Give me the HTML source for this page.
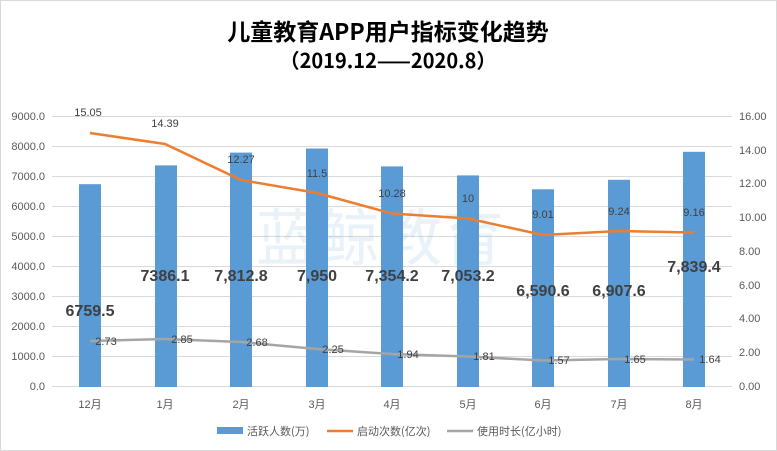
<!DOCTYPE html>
<html><head><meta charset="utf-8"><style>
body{margin:0;background:#fff}
svg{display:block;font-family:"Liberation Sans","Noto Sans CJK SC",sans-serif}
</style></head><body>
<svg width="777" height="451" viewBox="0 0 777 451">
<rect x="0.5" y="0.5" width="776" height="450" fill="#fff" stroke="#d9d9d9"/>
<text x="388" y="40" text-anchor="middle" font-size="23" font-weight="bold" font-family="'Noto Sans CJK SC',sans-serif">儿童教育APP用户指标变化趋势</text>
<text x="388" y="68" text-anchor="middle" font-size="20" font-weight="bold" font-family="'Noto Sans CJK SC',sans-serif">（2019.12——2020.8）</text>
<g stroke="#d9d9d9" stroke-width="1">
<line x1="52" x2="732" y1="116.5" y2="116.5"/><line x1="52" x2="732" y1="146.5" y2="146.5"/>
<line x1="52" x2="732" y1="176.5" y2="176.5"/><line x1="52" x2="732" y1="206.5" y2="206.5"/>
<line x1="52" x2="732" y1="236.5" y2="236.5"/><line x1="52" x2="732" y1="266.5" y2="266.5"/>
<line x1="52" x2="732" y1="296.5" y2="296.5"/><line x1="52" x2="732" y1="326.5" y2="326.5"/>
<line x1="52" x2="732" y1="356.5" y2="356.5"/><line x1="52" x2="732" y1="386.5" y2="386.5"/>
</g>
<g font-size="11" fill="#595959" text-anchor="end">
<text x="45" y="120">9000.0</text><text x="45" y="150">8000.0</text><text x="45" y="180">7000.0</text>
<text x="45" y="210">6000.0</text><text x="45" y="240">5000.0</text><text x="45" y="270">4000.0</text>
<text x="45" y="300">3000.0</text><text x="45" y="330">2000.0</text><text x="45" y="360">1000.0</text>
<text x="45" y="390">0.0</text>
</g>
<g font-size="11" fill="#595959" text-anchor="start">
<text x="739" y="120">16.00</text><text x="739" y="154">14.00</text><text x="739" y="187">12.00</text>
<text x="739" y="221">10.00</text><text x="739" y="255">8.00</text><text x="739" y="289">6.00</text>
<text x="739" y="322">4.00</text><text x="739" y="356">2.00</text><text x="739" y="390">0.00</text>
</g>
<text x="380" y="260" text-anchor="middle" font-size="62" fill="#5b9bd5" opacity="0.12" font-family="'Noto Sans CJK SC',sans-serif">蓝鲸教育</text>
<g fill="#5b9bd5">
<rect x="79" y="184.2" width="22" height="202.8"/>
<rect x="155" y="165.4" width="22" height="221.6"/>
<rect x="230" y="152.6" width="22" height="234.4"/>
<rect x="306" y="148.5" width="22" height="238.5"/>
<rect x="381" y="166.4" width="22" height="220.6"/>
<rect x="457" y="175.4" width="22" height="211.6"/>
<rect x="532" y="189.3" width="22" height="197.7"/>
<rect x="608" y="179.8" width="22" height="207.2"/>
<rect x="683" y="151.8" width="22" height="235.2"/>
</g>
<polyline fill="none" stroke="#ed7d31" stroke-width="2.5" points="90,133 165,144 241,180 317,193 392,213.5 468,218.5 543,235 619,231 694,232.5"/>
<polyline fill="none" stroke="#a5a5a5" stroke-width="2.5" points="90,341 165,339 241,342 317,349 392,354 468,356.5 543,360.5 619,359 694,359.5"/>
<g font-size="11" fill="#404040" text-anchor="middle">
<text x="88" y="116">15.05</text><text x="165" y="127">14.39</text><text x="241" y="163">12.27</text>
<text x="317" y="177">11.5</text><text x="392" y="197">10.28</text><text x="468" y="202">10</text>
<text x="543" y="218">9.01</text><text x="619" y="215">9.24</text><text x="694" y="216">9.16</text>
<text x="106" y="345">2.73</text><text x="182" y="343">2.85</text><text x="257" y="346">2.68</text>
<text x="333" y="353">2.25</text><text x="408" y="358">1.94</text><text x="484" y="360">1.81</text>
<text x="559" y="364">1.57</text><text x="635" y="363">1.65</text><text x="710" y="363">1.64</text>
</g>
<g font-size="16" font-weight="bold" fill="#404040" text-anchor="middle">
<text x="90" y="316">6759.5</text><text x="165" y="281">7386.1</text><text x="241" y="281">7,812.8</text>
<text x="317" y="281">7,950</text><text x="392" y="281">7,354.2</text><text x="468" y="281">7,053.2</text>
<text x="543" y="296">6,590.6</text><text x="619" y="296">6,907.6</text><text x="694" y="272">7,839.4</text>
</g>
<g font-size="11" fill="#595959" text-anchor="middle" font-family="'Liberation Sans','Noto Sans CJK SC',sans-serif">
<text x="90" y="408">12月</text><text x="165" y="408">1月</text><text x="241" y="408">2月</text>
<text x="317" y="408">3月</text><text x="392" y="408">4月</text><text x="468" y="408">5月</text>
<text x="543" y="408">6月</text><text x="619" y="408">7月</text><text x="694" y="408">8月</text>
</g>
<g font-size="11" fill="#595959" font-family="'Noto Sans CJK SC',sans-serif">
<rect x="217" y="427" width="26" height="7" fill="#5b9bd5"/><text x="247" y="435">活跃人数(万)</text>
<line x1="327" x2="353" y1="431" y2="431" stroke="#ed7d31" stroke-width="2.5"/><text x="357" y="435">启动次数(亿次)</text>
<line x1="447" x2="473" y1="431" y2="431" stroke="#a5a5a5" stroke-width="2.5"/><text x="477" y="435">使用时长(亿小时)</text>
</g>
</svg>
</body></html>
